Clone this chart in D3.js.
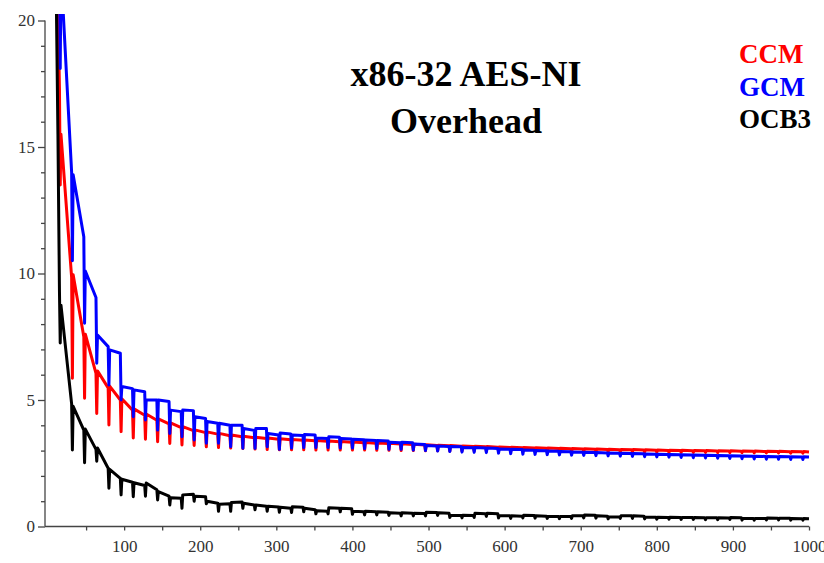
<!DOCTYPE html>
<html><head><meta charset="utf-8">
<script src="https://cdn.jsdelivr.net/npm/d3@7"></script>
<style>
html,body{margin:0;padding:0;background:#fff;}
svg{display:block;}
</style></head>
<body>
<svg id="chart" width="824" height="563"></svg>
<script>
// Message length in bytes; dips at every multiple of 16 (k = 1..62 → 16..992)
const seriesNames = ["CCM", "GCM", "OCB3"];
const seriesColors = ["#ff0000", "#0000ff", "#000000"];

// Points before the first block boundary (x, y)
const ccmHeadX = [10, 12, 14, 15];
const ccmHeadY = [30, 24, 19, 17.3];
const gcmHeadX = [12, 14, 15];
const gcmHeadY = [30, 25, 23];
const ocbHeadX = [8, 11, 13, 15];
const ocbHeadY = [32, 20.5, 15.5, 9.3];

// value at the block boundary (16k)
const ccmDip = [13.5,5.86,5.07,4.47,4.01,3.75,3.5,3.45,3.35,3.28,3.22,3.2,3.15,3.12,3.1,3.08,3.06,3.04,3.03,3.03,
  3.03,3.02,3.02,3.02,3.02,3.02,3.01,3.01,3.0,3.0,2.99,2.99,2.98,2.98,2.98,2.97,2.97,2.97,2.97,2.97,
  2.96,2.96,2.96,2.96,2.95,2.95,2.95,2.95,2.94,2.94,2.93,2.93,2.93,2.93,2.92,2.92,2.92,2.91,2.91,2.91,2.9,2.9];
// value just after the boundary (16k+1)
const ccmTop = [15.5,9.95,7.6,6.15,5.55,5.05,4.65,4.45,4.25,4.1,3.95,3.82,3.74,3.68,3.62,3.57,3.53,3.5,3.47,3.44,
  3.42,3.4,3.38,3.36,3.34,3.32,3.3,3.29,3.27,3.25,3.23,3.21,3.2,3.18,3.17,3.16,3.14,3.13,3.12,3.11,
  3.1,3.09,3.08,3.07,3.06,3.05,3.04,3.04,3.03,3.02,3.01,3.01,3.0,3.0,2.99,2.99,2.98,2.98,2.97,2.97,2.96,2.96];
// value at the end of the block (16k+15, last one at 1000)
const ccmEnd = [9.85,7.5,6.05,5.48,5.0,4.6,4.4,4.2,4.06,3.91,3.79,3.71,3.65,3.59,3.55,3.51,3.48,3.45,3.43,3.41,
  3.39,3.37,3.35,3.33,3.31,3.29,3.28,3.26,3.24,3.22,3.2,3.19,3.17,3.16,3.15,3.13,3.12,3.11,3.1,3.09,
  3.08,3.07,3.06,3.05,3.04,3.03,3.03,3.02,3.01,3.0,3.0,2.99,2.99,2.98,2.98,2.97,2.97,2.96,2.96,2.95,2.95,2.94];

const gcmDip = [18.1,10.5,8.03,6.45,5.59,5.0,4.34,4.21,3.81,3.68,3.55,3.42,3.29,3.29,3.15,3.09,3.09,3.15,3.05,3.1,
  3.12,3.12,3.12,3.1,3.1,3.08,3.08,3.05,3.05,3.02,3.0,2.98,2.96,2.94,2.93,2.92,2.9,2.88,2.86,2.85,
  2.84,2.83,2.82,2.81,2.8,2.79,2.78,2.77,2.76,2.75,2.74,2.73,2.72,2.71,2.7,2.69,2.68,2.67,2.66,2.66,2.65,2.65];
const gcmTop = [22,13.9,10.1,7.57,6.98,5.53,5.4,5.0,5.0,4.6,4.6,4.34,4.15,4.08,4.0,3.87,3.87,3.68,3.7,3.62,
  3.64,3.5,3.55,3.48,3.45,3.42,3.4,3.33,3.33,3.26,3.2,3.18,3.16,3.12,3.12,3.1,3.06,3.05,3.02,3.0,
  2.98,2.96,2.94,2.93,2.92,2.91,2.9,2.89,2.87,2.86,2.85,2.84,2.83,2.82,2.81,2.8,2.79,2.78,2.77,2.77,2.76,2.76];
const gcmEnd = [14.0,11.45,9.05,7.11,6.85,5.45,5.33,5.0,4.94,4.54,4.58,4.27,4.08,4.0,4.0,3.8,3.87,3.62,3.66,3.6,
  3.62,3.48,3.53,3.46,3.43,3.4,3.38,3.31,3.31,3.24,3.18,3.16,3.15,3.11,3.1,3.08,3.05,3.04,3.01,2.99,
  2.97,2.95,2.93,2.92,2.91,2.9,2.89,2.88,2.86,2.85,2.84,2.83,2.82,2.81,2.8,2.79,2.78,2.77,2.76,2.76,2.75,2.75];

const ocbDip = [7.25,3.02,2.52,2.58,1.51,1.25,1.18,1.2,1.05,0.85,0.72,1.0,0.9,0.6,0.6,0.72,0.66,0.6,0.56,0.55,
  0.58,0.5,0.5,0.58,0.48,0.46,0.46,0.44,0.42,0.42,0.42,0.44,0.36,0.34,0.36,0.4,0.34,0.32,0.34,0.33,
  0.32,0.31,0.32,0.34,0.33,0.3,0.32,0.32,0.3,0.29,0.29,0.28,0.28,0.27,0.27,0.28,0.25,0.25,0.26,0.26,0.25,0.25];
const ocbTop = [8.75,4.75,3.85,3.1,2.26,1.87,1.73,1.72,1.38,1.14,1.25,1.2,1.0,0.88,0.95,0.92,0.85,0.8,0.76,0.78,
  0.72,0.62,0.74,0.72,0.6,0.6,0.58,0.54,0.54,0.52,0.56,0.54,0.44,0.44,0.52,0.52,0.42,0.42,0.44,0.42,
  0.4,0.4,0.42,0.45,0.42,0.38,0.42,0.42,0.37,0.37,0.37,0.36,0.36,0.35,0.35,0.36,0.32,0.32,0.34,0.33,0.32,0.32];
const ocbEnd = [4.85,3.81,3.05,2.3,1.9,1.75,1.62,1.45,1.2,1.12,1.27,1.18,0.92,0.9,0.97,0.85,0.8,0.77,0.72,0.76,
  0.66,0.6,0.72,0.7,0.58,0.58,0.56,0.52,0.52,0.51,0.55,0.52,0.43,0.43,0.5,0.5,0.42,0.41,0.43,0.41,
  0.4,0.4,0.42,0.44,0.41,0.38,0.42,0.41,0.37,0.36,0.36,0.36,0.35,0.35,0.34,0.35,0.32,0.32,0.33,0.33,0.31,0.31];

const xTicks = [50,100,150,200,250,300,350,400,450,500,550,600,650,700,750,800,850,900,950,1000];
const yTicks = [0,1,2,3,4,5,6,7,8,9,10,11,12,13,14,15,16,17,18,19,20];

function build(headX, headY, dip, top, end) {
  const pts = headX.map((x, i) => [x, headY[i]]);
  dip.forEach((d, i) => {
    const k = i + 1;
    pts.push([16 * k, d]);
    pts.push([16 * k + 1, top[i]]);
    pts.push([i === dip.length - 1 ? 1000 : 16 * k + 15, end[i]]);
  });
  return pts;
}
const series = [
  build(ccmHeadX, ccmHeadY, ccmDip, ccmTop, ccmEnd),
  build(gcmHeadX, gcmHeadY, gcmDip, gcmTop, gcmEnd),
  build(ocbHeadX, ocbHeadY, ocbDip, ocbTop, ocbEnd)
];

const svg = d3.select("#chart");
const x = d3.scaleLinear().domain([-4, 1000]).range([45, 809]);
const y = d3.scaleLinear().domain([0, 20]).range([526.5, 20.5]);

svg.append("defs").append("clipPath").attr("id", "clip")
  .append("rect").attr("x", 45).attr("y", 14).attr("width", 790).attr("height", 513);

const font = "'Liberation Serif','Times New Roman',serif";

// Axes
const xAxis = d3.axisBottom(x).tickValues(xTicks).tickSizeOuter(0)
  .tickSize(4).tickPadding(9)
  .tickFormat(d => d % 100 === 0 ? d : "");
const gx = svg.append("g").attr("transform", `translate(0,${y(0)})`).call(xAxis);
gx.select(".domain").attr("d", `M45,0H809`);

const yAxis = d3.axisLeft(y).tickValues(yTicks).tickSizeOuter(0)
  .tickSize(4).tickPadding(4)
  .tickFormat(d => d % 5 === 0 ? d : "");
const gy = svg.append("g").attr("transform", `translate(45,0)`).call(yAxis);
gy.selectAll(".tick line").attr("x2", d => d % 5 === 0 ? -7 : -4);
gy.selectAll(".tick text").attr("x", -10);
gy.select(".domain").attr("d", `M0,${y(0)}V${y(20)}`);

[gx, gy].forEach(g => {
  g.select(".domain").attr("stroke", "#444").attr("stroke-width", 1.3);
  g.selectAll(".tick line").attr("stroke", "#444").attr("stroke-width", 1.3);
  g.selectAll(".tick text").attr("fill", "#333").style("font-family", font).style("font-size", "17px");
});

// Lines
const line = d3.line().x(d => x(d[0])).y(d => y(d[1]));
const gl = svg.append("g").attr("clip-path", "url(#clip)");
series.forEach((s, i) => {
  gl.append("path").datum(s).attr("d", line)
    .attr("fill", "none").attr("stroke", seriesColors[i])
    .attr("stroke-width", 3).attr("stroke-linejoin", "round");
});

// Title
const title = svg.append("text").attr("text-anchor", "middle")
  .style("font-family", font).style("font-weight", "bold").style("font-size", "36px").attr("fill", "#000");
title.append("tspan").attr("x", 466).attr("y", 86).text("x86-32 AES-NI");
title.append("tspan").attr("x", 466).attr("y", 133).text("Overhead");

// Legend
seriesNames.forEach((n, i) => {
  svg.append("text").attr("x", 739).attr("y", 63 + i * 32.5)
    .style("font-family", font).style("font-weight", "bold").style("font-size", "27px")
    .attr("fill", seriesColors[i]).text(n);
});
</script>
</body></html>
